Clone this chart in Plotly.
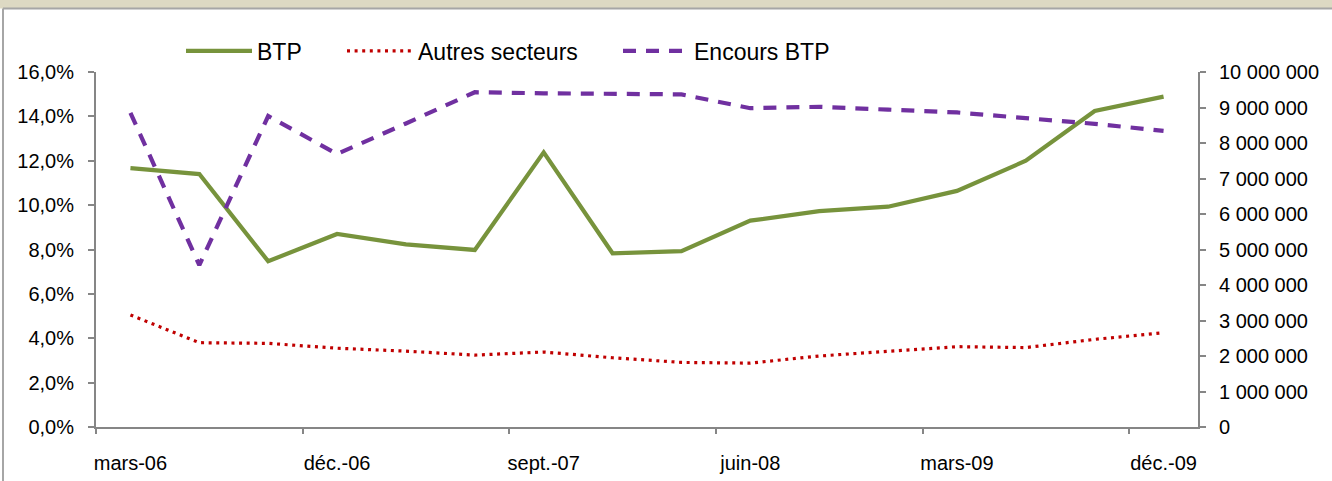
import plotly.graph_objects as go

quarters = ["mars-06", "juin-06", "sept.-06", "déc.-06",
            "mars-07", "juin-07", "sept.-07", "déc.-07",
            "mars-08", "juin-08", "sept.-08", "déc.-08",
            "mars-09", "juin-09", "sept.-09", "déc.-09"]

btp = [11.67, 11.40, 7.47, 8.70, 8.23, 7.98, 12.38, 7.83,
       7.93, 9.30, 9.73, 9.93, 10.64, 12.00, 14.24, 14.89]

autres_secteurs = [5.05, 3.80, 3.77, 3.55, 3.42, 3.24, 3.38, 3.12,
                   2.91, 2.88, 3.20, 3.42, 3.62, 3.58, 3.95, 4.25]

encours_btp = [8850000, 4560000, 8760000, 7690000, 8550000, 9430000, 9400000, 9380000,
               9370000, 8980000, 9020000, 8940000, 8860000, 8700000, 8540000, 8340000]

W, H = 1332, 481
L, R, T, B = 96, 134, 72, 54
pw, ph = W - L - R, H - T - B

def px(x):
    return (x - L) / pw

def py(y):
    return (H - B - y) / ph

FONT = "Liberation Sans, Arial, sans-serif"
AX = "#868686"

fig = go.Figure()
fig.add_trace(go.Scatter(x=quarters, y=btp, name="BTP", mode="lines", legend="legend",
                         line=dict(color="#77933C", width=4.2)))
fig.add_trace(go.Scatter(x=quarters, y=autres_secteurs, name="Autres secteurs", mode="lines",
                         legend="legend2",
                         line=dict(color="#C00000", width=3.2, dash="3px,4.6px")))
fig.add_trace(go.Scatter(x=quarters, y=encours_btp, name="Encours BTP", mode="lines",
                         yaxis="y2", legend="legend3",
                         line=dict(color="#7030A0", width=4.2, dash="13px,10px")))

def leg(x0):
    return dict(orientation="h", x=px(x0 - 6), y=py(51), xanchor="left", yanchor="middle",
                font=dict(size=23), itemwidth=66, bgcolor="rgba(0,0,0,0)")

fig.update_layout(
    width=W, height=H,
    margin=dict(l=L, r=R, t=T, b=B, pad=0, autoexpand=False),
    paper_bgcolor="white", plot_bgcolor="white",
    separators=", ",
    font=dict(family=FONT, size=20, color="black"),
    showlegend=True,
    legend=leg(187), legend2=leg(348), legend3=leg(624),
    xaxis=dict(type="category", range=[-0.5, 15.5], tickmode="linear", tick0=0, dtick=3,
               tickson="boundaries", ticks="outside", ticklen=5, tickwidth=2, tickcolor=AX,
               showline=True, linecolor=AX, linewidth=2, showgrid=False, zeroline=False,
               ticklabelstandoff=17, tickangle=0, automargin=False, tickfont=dict(size=20)),
    yaxis=dict(range=[0, 16], tickmode="linear", tick0=0, dtick=2, tickformat=".1f",
               ticksuffix="%", ticks="outside", ticklen=6, tickwidth=2, tickcolor=AX,
               showline=True, linecolor=AX, linewidth=2, showgrid=False, zeroline=False,
               ticklabelstandoff=10, automargin=False, tickfont=dict(size=20)),
    yaxis2=dict(range=[0, 10000000], tickmode="linear", tick0=0, dtick=1000000,
                tickformat=",d", overlaying="y", side="right",
                ticks="outside", ticklen=6, tickwidth=2, tickcolor=AX,
                showline=True, linecolor=AX, linewidth=2, showgrid=False, zeroline=False,
                ticklabelstandoff=9, automargin=False, tickfont=dict(size=20)),
    shapes=[
        dict(type="rect", xref="paper", yref="paper", x0=px(0), x1=px(W), y0=py(8.5), y1=py(0),
             fillcolor="#DDD9C3", line=dict(width=0), layer="below"),
        dict(type="line", xref="paper", yref="paper", x0=px(3), x1=px(W), y0=py(8.5), y1=py(8.5),
             line=dict(color="#A6A6A6", width=2)),
        dict(type="line", xref="paper", yref="paper", x0=px(3), x1=px(3), y0=py(8.5), y1=py(H),
             line=dict(color="#A6A6A6", width=2)),
    ],
)

fig.write_html("out.html", config={"displayModeBar": False},
               post_script="document.body.style.margin='0px';document.body.style.overflow='hidden';")
